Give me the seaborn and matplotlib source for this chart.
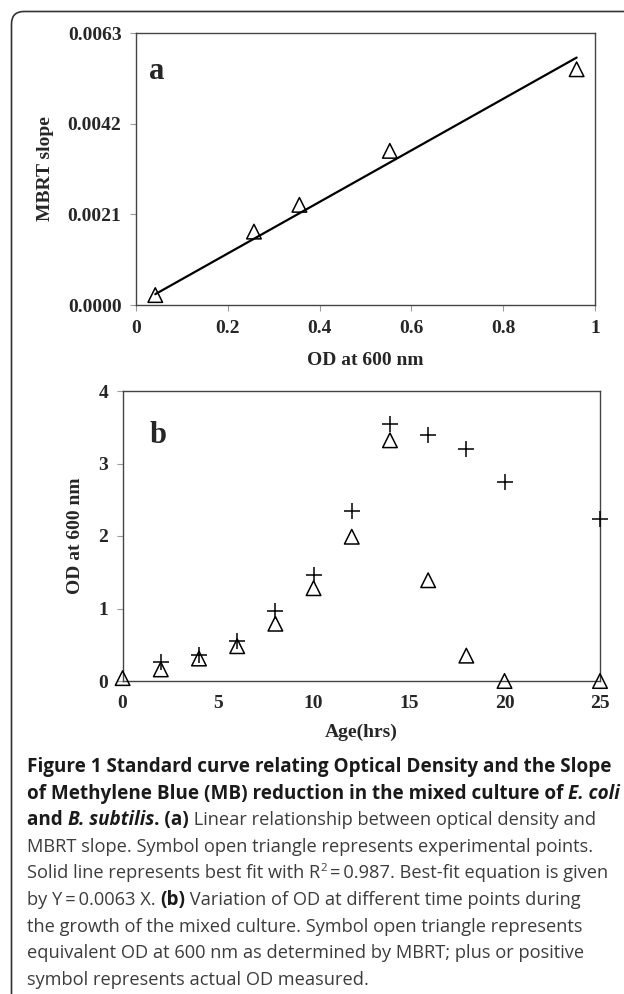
import matplotlib
matplotlib.use("Agg")
import matplotlib.pyplot as plt
import numpy as np
import pandas as pd
import seaborn as sns
from matplotlib.path import Path
from matplotlib.patches import PathPatch

# panel a: MBRT slope against OD at 600 nm
od_600 = [0.042, 0.257, 0.356, 0.553, 0.960]
mbrt_slope = [0.00023, 0.00170, 0.00232, 0.00357, 0.00546]
slope_ticks = [0.0, 0.0021, 0.0042, 0.0063]
od_ticks = [0, 0.2, 0.4, 0.6, 0.8, 1.0]
od_tick_labels = ["0", "0.2", "0.4", "0.6", "0.8", "1"]

# panel b: OD during growth of the mixed culture
age_mbrt = [0, 2, 4, 6, 8, 10, 12, 14, 16, 18, 20, 25]
od_mbrt = [0.04, 0.16, 0.31, 0.48, 0.79, 1.28, 1.99, 3.32, 1.39, 0.35, 0.0, 0.0]
age_measured = [2, 4, 6, 8, 10, 12, 14, 16, 18, 20, 25]
od_measured = [0.26, 0.36, 0.55, 0.96, 1.46, 2.34, 3.54, 3.40, 3.20, 2.74, 2.24]
age_ticks = [0, 5, 10, 15, 20, 25]
od_b_ticks = [0, 1, 2, 3, 4]

# caption, line by line: (text, weight, style, superscript)
TS = "\u2009"
caption = [
    [("Figure 1 Standard curve relating Optical Density and the Slope", "bold", "normal", False)],
    [("of Methylene Blue (MB) reduction in the mixed culture of ", "bold", "normal", False),
     ("E. coli", "bold", "italic", False)],
    [("and ", "bold", "normal", False), ("B. subtilis", "bold", "italic", False),
     (". (a)", "bold", "normal", False),
     (" Linear relationship between optical density and", "normal", "normal", False)],
    [("MBRT slope. Symbol open triangle represents experimental points.", "normal", "normal", False)],
    [("Solid line represents best fit with R", "normal", "normal", False),
     ("2", "normal", "normal", True),
     (TS + "=" + TS + "0.987. Best-fit equation is given", "normal", "normal", False)],
    [("by Y" + TS + "=" + TS + "0.0063 X. ", "normal", "normal", False), ("(b)", "bold", "normal", False),
     (" Variation of OD at different time points during", "normal", "normal", False)],
    [("the growth of the mixed culture. Symbol open triangle represents", "normal", "normal", False)],
    [("equivalent OD at 600 nm as determined by MBRT; plus or positive", "normal", "normal", False)],
    [("symbol represents actual OD measured.", "normal", "normal", False)],
]

sns.set_style("white")
plt.rcParams["font.family"] = ["Liberation Serif", "DejaVu Serif"]
plt.rcParams["font.weight"] = "bold"

W, H = 624, 994
fig = plt.figure(figsize=(W / 100, H / 100), dpi=100)
renderer = fig.canvas.get_renderer()
spine_col = "#444444"


def style_axes(ax):
    for s in ax.spines.values():
        s.set_visible(True)
        s.set_color(spine_col)
        s.set_linewidth(1.0)
    ax.tick_params(direction="out", length=4.5, width=0.8, color="#9a9a9a",
                   labelsize=14, pad=6, bottom=True, left=True)
    for lab in ax.get_xticklabels() + ax.get_yticklabels():
        lab.set_fontweight("bold")


# ---- panel a
ax_a = fig.add_axes([136 / W, 1 - 305 / H, 459 / W, 272 / H])
x = np.array(od_600)
y = np.array(mbrt_slope)
k = (x * y).sum() / (x * x).sum()  # fit through the origin
fit = pd.DataFrame({"od": [x.min(), x.max()], "slope": [k * x.min(), k * x.max()]})
sns.lineplot(data=fit, x="od", y="slope", ax=ax_a, color="black", linewidth=1.6)
sns.scatterplot(x=od_600, y=mbrt_slope, ax=ax_a, marker="^", s=110,
                facecolor="none", edgecolor="black", linewidth=1.1,
                clip_on=False, zorder=3)
ax_a.set_xlim(0, 1)
ax_a.set_ylim(0, 0.0063)
ax_a.set_xticks(od_ticks)
ax_a.set_xticklabels(od_tick_labels)
ax_a.set_yticks(slope_ticks)
ax_a.set_yticklabels([f"{v:.4f}" for v in slope_ticks])
style_axes(ax_a)
ax_a.set_xlabel("OD at 600 nm", fontsize=14, fontweight="bold")
ax_a.set_ylabel("MBRT slope", fontsize=14, fontweight="bold")
ax_a.xaxis.set_label_coords(0.5, (305 - 360) / 272)
ax_a.xaxis.label.set_va("center")
ax_a.yaxis.set_label_coords((45 - 136) / 459, 0.5)
ax_a.yaxis.label.set_va("center")
ax_a.text(0.046, 0.857, "a", transform=ax_a.transAxes, fontsize=22,
          fontweight="bold", ha="center", va="center")

# ---- panel b
ax_b = fig.add_axes([122.6 / W, 1 - 681 / H, 477.4 / W, 290 / H])
sns.scatterplot(x=age_mbrt, y=od_mbrt, ax=ax_b, marker="^", s=110,
                facecolor="none", edgecolor="black", linewidth=1.1,
                clip_on=False, zorder=3)
sns.scatterplot(x=age_measured, y=od_measured, ax=ax_b, marker="+", s=130,
                color="black", linewidth=1.1, clip_on=False, zorder=3)
ax_b.set_xlim(0, 25)
ax_b.set_ylim(0, 4)
ax_b.set_xticks(age_ticks)
ax_b.set_yticks(od_b_ticks)
style_axes(ax_b)
ax_b.tick_params(axis="x", length=0, pad=10)
ax_b.set_xlabel("Age(hrs)", fontsize=14, fontweight="bold")
ax_b.set_ylabel("OD at 600 nm", fontsize=14, fontweight="bold")
ax_b.xaxis.set_label_coords(0.5, (681 - 732) / 290)
ax_b.xaxis.label.set_va("center")
ax_b.yaxis.set_label_coords((76 - 122.6) / 477.4, 0.5)
ax_b.yaxis.label.set_va("center")
ax_b.text(0.074, 0.848, "b", transform=ax_b.transAxes, fontsize=22,
          fontweight="bold", ha="center", va="center")

# ---- outer frame (open, rounded top-left corner)
px = lambda a, b: (a / W, 1 - b / H)
verts = [px(11.5, 994), px(11.5, 24), px(11.5, 11.5), px(24, 11.5), px(624, 11.5)]
codes = [Path.MOVETO, Path.LINETO, Path.CURVE3, Path.CURVE3, Path.LINETO]
fig.add_artist(PathPatch(Path(verts, codes), transform=fig.transFigure,
                         fill=False, edgecolor="#333333", linewidth=1.2))

# ---- caption
cap_font = ["Open Sans", "DejaVu Sans"]


def run_width(s, size, weight, style):
    kw = dict(fontsize=size, fontweight=weight, fontstyle=style, family=cap_font)
    t1 = fig.text(0, 0, "|" + s + "|", **kw)
    t2 = fig.text(0, 0, "||", **kw)
    w = t1.get_window_extent(renderer).width - t2.get_window_extent(renderer).width
    t1.remove()
    t2.remove()
    return w


base = 12.0
bold_size = base * 585 / run_width(caption[0][0][0], base, "bold", "normal")
reg_size = base * 566 / run_width(caption[3][0][0], base, "normal", "normal")

for i, line in enumerate(caption):
    xpos = 27.0
    baseline = 772 + 26.6 * i
    for text, weight, style, sup in line:
        size = bold_size if weight == "bold" else reg_size
        ypos = baseline
        if sup:
            ypos = baseline - size * 1.389 * 0.42
            size = size * 0.62
        col = "#1a1a1a" if weight == "bold" else "#3c3c3c"
        fig.text(xpos / W, 1 - ypos / H, text, fontsize=size, fontweight=weight,
                 fontstyle=style, family=cap_font, color=col, va="baseline", ha="left")
        xpos += run_width(text, size, weight, style)

fig.savefig("out.png", dpi=100)
